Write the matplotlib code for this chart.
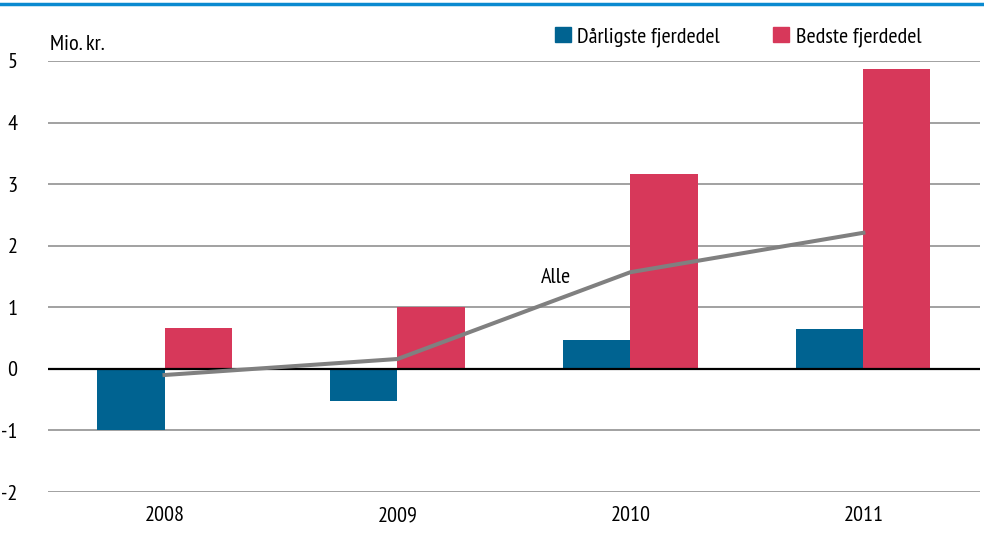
import matplotlib
matplotlib.use("Agg")
import numpy as np
from matplotlib import pyplot as plt
from matplotlib.lines import Line2D
from matplotlib.patches import Patch

years = ["2008", "2009", "2010", "2011"]
worst = [-1.0, -0.52, 0.47, 0.65]
best = [0.66, 1.0, 3.17, 4.87]
alle = [-0.1, 0.16, 1.57, 2.21]
yticks = [-2, -1, 0, 1, 2, 3, 4, 5]

plt.rcParams["font.family"] = ["PT Sans Narrow", "DejaVu Sans"]
plt.rcParams["font.size"] = 16

fig = plt.figure(figsize=(9.84, 5.33), dpi=100)
ax = fig.add_axes([0.0488, 0.0769, 0.947, 0.8087])

x = np.arange(len(years))
w = 0.288
ax.bar(x - w / 2, worst, w, color="#006391", zorder=2)
ax.bar(x + w / 2, best, w, color="#d7385a", zorder=2)
ax.plot(x, alle, color="#808080", lw=2.9, zorder=4)
ax.axhline(0, color="black", lw=1.6, zorder=3)

ax.set_xlim(-0.5, 3.5)
ax.set_ylim(-2, 5)
ax.set_yticks(yticks)
ax.set_yticklabels([str(t) for t in yticks])
ax.set_xticks(x)
ax.set_xticklabels(years)
ax.yaxis.grid(True, color="#9a9a9a", lw=1.3)
ax.set_axisbelow(True)
ax.tick_params(axis="both", length=0)
ax.tick_params(axis="y", pad=22)
ax.tick_params(axis="x", pad=10)
for s in ax.spines.values():
    s.set_visible(False)

ax.text(1.68, 1.49, "Alle", ha="center", va="center", zorder=5)
fig.text(0.051, 0.917, "Mio. kr.", ha="left", va="center")

handles = [Patch(color="#006391"), Patch(color="#d7385a")]
fig.legend(handles, ["Dårligste fjerdedel", "Bedste fjerdedel"], ncol=2,
           loc="center left", bbox_to_anchor=(0.564, 0.931), frameon=False,
           handlelength=0.7, handleheight=0.7, handletextpad=0.3,
           columnspacing=2.4, borderpad=0, borderaxespad=0)

fig.add_artist(Line2D([0, 1], [0.992, 0.992], color="#0a8ad0", lw=2.5,
                      transform=fig.transFigure))

fig.savefig("out.png", dpi=100)
